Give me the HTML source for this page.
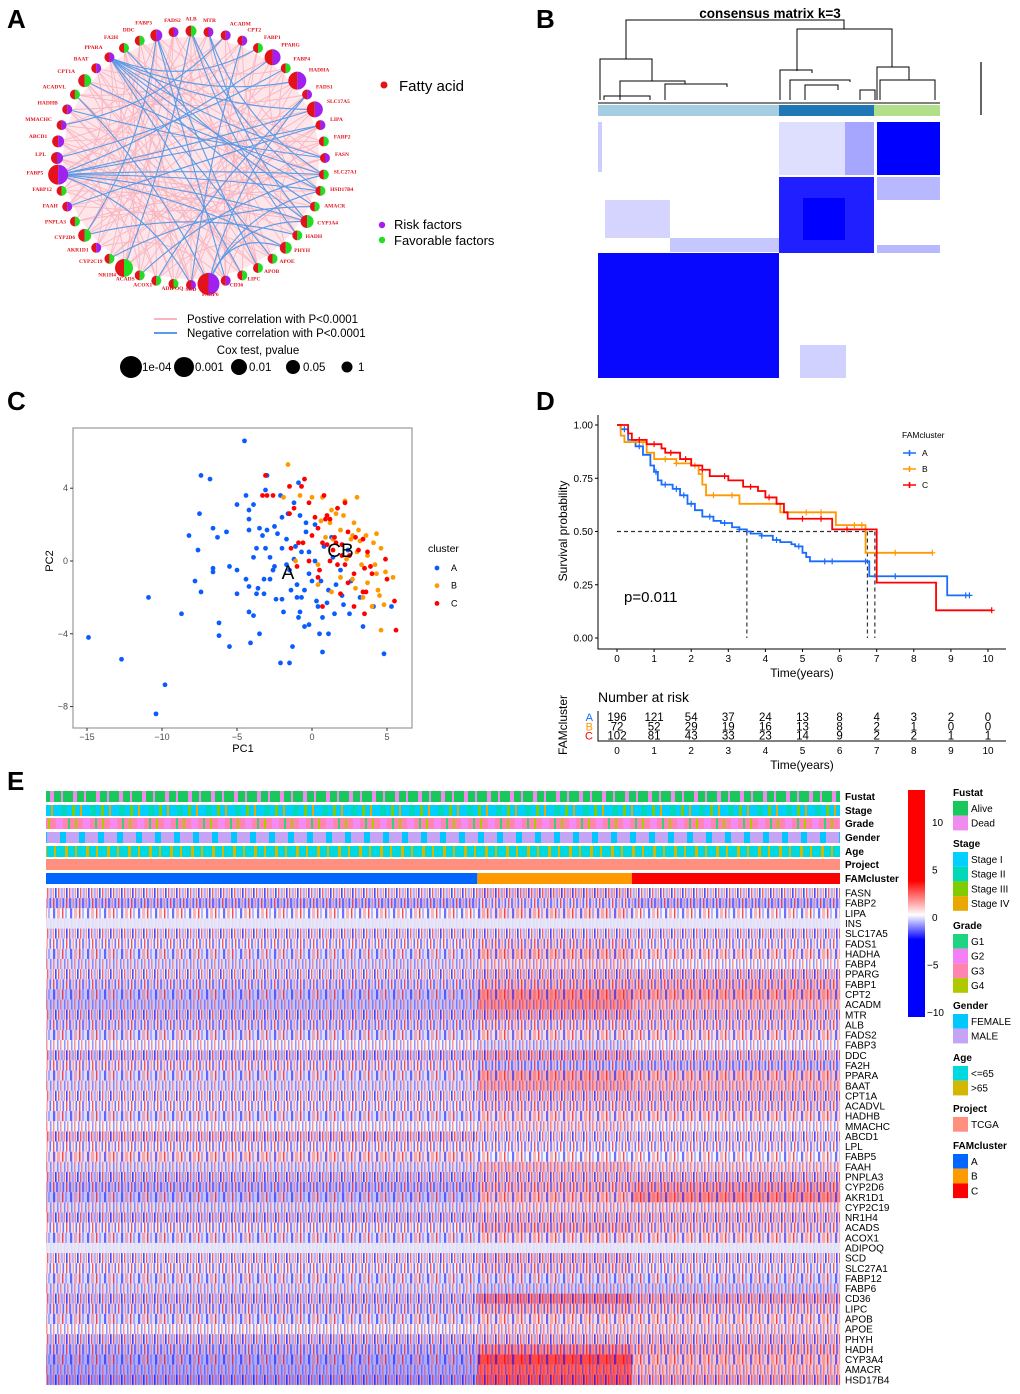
<!DOCTYPE html>
<html><head><meta charset="utf-8"><title>Fatty acid metabolism clusters</title>
<style>
html,body{margin:0;padding:0;background:#fff;}
svg{display:block;font-family:"Liberation Sans",Arial,sans-serif;}
</style></head>
<body>
<svg id="fig" width="1020" height="1394" viewBox="0 0 1020 1394" xmlns="http://www.w3.org/2000/svg">
<defs>
<pattern id="hm0" width="11" height="10" patternUnits="userSpaceOnUse">
<rect x="0" y="0" width="1.6" height="10" fill="#0000ff" opacity="0.7"/><rect x="3" y="0" width="1.4" height="10" fill="#ff0000" opacity="0.6"/><rect x="5.5" y="0" width="2.4" height="10" fill="#3333ff" opacity="0.35"/><rect x="8.6" y="0" width="1.4" height="10" fill="#ff2222" opacity="0.45"/></pattern>
<pattern id="hm1" width="13" height="10" patternUnits="userSpaceOnUse">
<rect x="1" y="0" width="1.4" height="10" fill="#ff0000" opacity="0.65"/><rect x="4" y="0" width="2.2" height="10" fill="#0000ff" opacity="0.45"/><rect x="7.5" y="0" width="1.6" height="10" fill="#ff3333" opacity="0.4"/><rect x="10.5" y="0" width="1.6" height="10" fill="#2222ff" opacity="0.6"/></pattern>
<pattern id="hm2" width="17" height="10" patternUnits="userSpaceOnUse">
<rect x="2" y="0" width="2.2" height="10" fill="#0000ff" opacity="0.55"/><rect x="6" y="0" width="3" height="10" fill="#ff4444" opacity="0.35"/><rect x="11" y="0" width="1.4" height="10" fill="#ff0000" opacity="0.7"/><rect x="14" y="0" width="2" height="10" fill="#4444ff" opacity="0.35"/></pattern>
<pattern id="hm3" width="7" height="10" patternUnits="userSpaceOnUse">
<rect x="1" y="0" width="1.5" height="10" fill="#2222ff" opacity="0.45"/><rect x="4" y="0" width="1.5" height="10" fill="#ff2222" opacity="0.45"/></pattern>
<pattern id="pFust" width="23" height="12" patternUnits="userSpaceOnUse"><rect x="4" width="4" height="12" fill="#f08cf0"/><rect x="15" width="2" height="12" fill="#f08cf0"/></pattern>
<pattern id="pStage" width="29" height="12" patternUnits="userSpaceOnUse"><rect x="3" width="6" height="12" fill="#00d8b8"/><rect x="14" width="3" height="12" fill="#7fcc00"/><rect x="22" width="2" height="12" fill="#e8a800"/></pattern>
<pattern id="pGrade" width="27" height="12" patternUnits="userSpaceOnUse"><rect x="2" width="7" height="12" fill="#f58af5"/><rect x="14" width="2" height="12" fill="#33d17a"/><rect x="21" width="2" height="12" fill="#b0c800"/></pattern>
<pattern id="pGender" width="19" height="12" patternUnits="userSpaceOnUse"><rect x="3" width="6" height="12" fill="#00c8ff"/></pattern>
<pattern id="pAge" width="21" height="12" patternUnits="userSpaceOnUse"><rect x="2" width="3" height="12" fill="#d4b800"/><rect x="12" width="2" height="12" fill="#d4b800"/></pattern>
<linearGradient id="cbar" x1="0" y1="0" x2="0" y2="1">
<stop offset="0" stop-color="#ff0000"/><stop offset="0.4" stop-color="#ff0000"/><stop offset="0.55" stop-color="#ffffff"/><stop offset="0.66" stop-color="#0000ff"/><stop offset="1" stop-color="#0000ff"/></linearGradient>
</defs>

<text x="7" y="28" font-size="26" font-weight="bold">A</text>
<text x="536" y="28" font-size="26" font-weight="bold">B</text>
<text x="7" y="410" font-size="26" font-weight="bold">C</text>
<text x="536" y="410" font-size="26" font-weight="bold">D</text>
<text x="7" y="790" font-size="26" font-weight="bold">E</text>

<g id="pa"></g>
<g id="pb"></g>
<g id="pc"></g>
<g id="pd"></g>
<g id="pe"></g>
</svg>
<script>
// ===== DATA =====
const netGenes = ["ALB","MTR","ACADM","CPT2","FABP1","PPARG","FABP4","HADHA","FADS1","SLC17A5","LIPA","FABP2","FASN","SLC27A1","HSD17B4","AMACR","CYP3A4","HADH","PHYH","APOE","APOB","LIPC","CD36","FABP6","SCD","ADIPOQ","ACOX1","ACADS","NR1H4","CYP2C19","AKR1D1","CYP2D6","PNPLA3","FAAH","FABP12","FABP5","LPL","ABCD1","MMACHC","HADHB","ACADVL","CPT1A","BAAT","PPARA","FA2H","DDC","FABP3","FADS2"];
const netRisk = [0,1,1,1,0,1,0,1,1,1,1,0,1,0,0,0,0,0,0,0,0,0,1,1,1,0,0,0,0,0,1,0,0,1,0,1,1,1,1,1,0,0,1,1,0,0,1,1];
const netSize = [5.5,5,5,5,5,8,5,9,5,8,5,5,5,5,5,5,6.5,5,6,5,5,5,5,11,5,5,5,5,9,5,5,6.5,5,5,5,10,6,6,5,5,5,6.5,5,5,5,5,6,5];
const bluePairs = "43-4 43-7 43-9 43-14 43-16 43-19 43-12 43-21 0-14 0-17 0-28 46-20 46-22 46-31 35-13 35-14 35-9 35-16 35-5 35-18 35-24 35-10 23-14 23-16 23-18 23-8 23-40 1-16 1-13 41-13 29-15 31-17 10-33 6-36 2-38 27-13 24-3 44-15 26-8 39-12";
const pinkPairs = "0-24 0-35 1-30 2-36 3-33 4-40 5-39 6-31 7-34 8-29 9-37 10-26 11-38 12-28 13-42 14-41 15-44 16-45 17-46 18-47 19-44 20-43 21-42 22-41 23-40 24-39 25-38 26-37 27-36 28-35 29-47 30-46 31-45 32-44 33-43 34-42 2-20 3-22 5-25 7-27 9-29 11-31 13-33 15-35 17-37 19-39 21-41 23-43 25-45 27-47 1-19 4-22 6-24 8-26 10-28 12-30 14-32 16-34 18-36 20-38 22-40 24-42 26-44 28-46 0-20 3-17 5-15 7-21 9-23 11-25 13-27 15-29 17-31 19-33 21-35 23-37 25-39 27-41 29-43 31-47 33-45 35-1 37-3 39-5 41-7 43-9 45-11 47-13 2-12 6-14 10-18 14-22 18-26 22-30 26-34 30-38 34-42 38-46 42-2 46-6 8-40 12-44 16-0 20-4 24-8 28-12 32-16 36-20 40-24 44-28";

const pcaA = [[-4.5,6.6],[-7.4,4.7],[-6.8,4.5],[-3.1,3.9],[-3.0,4.7],[-4.4,3.6],[-2.1,3.6],[-5.0,3.1],[-4.2,2.8],[-3.9,3.1],[-7.5,2.6],[-4.2,2.3],[-6.6,1.8],[-5.7,1.6],[-8.2,1.4],[-6.3,1.3],[-4.2,1.7],[-3.5,1.8],[-3.0,1.7],[-2.5,1.9],[-2.0,2.4],[-1.7,1.2],[-7.6,0.6],[-3.7,0.7],[-3.1,0.7],[-2.0,0.7],[-3.9,0.2],[-2.8,0.2],[-6.6,-0.4],[-6.6,-0.6],[-5.5,-0.3],[-5.0,-0.5],[-2.5,-0.3],[-1.5,-0.5],[-4.4,-1.0],[-3.2,-1.0],[-2.8,-1.0],[-7.8,-1.1],[-7.4,-1.7],[-10.9,-2.0],[-5.0,-1.8],[-4.2,-1.4],[-3.6,-1.5],[-3.7,-1.8],[-3.2,-1.8],[-2.4,-2.1],[-2.0,-2.1],[-1.0,-2.0],[-8.7,-2.9],[-6.2,-3.4],[-4.2,-2.8],[-3.9,-3.0],[-1.9,-2.8],[-0.8,-2.8],[-6.2,-4.1],[-3.5,-4.0],[-14.9,-4.2],[-5.5,-4.7],[-4.1,-4.5],[-1.3,-4.7],[-12.7,-5.4],[-2.1,-5.6],[-1.5,-5.6],[-9.8,-6.8],[-10.4,-8.4],[-0.9,-3.1],[-0.5,-3.6],[-0.2,-3.5],[0.5,-4.0],[1.1,-4.0],[0.7,-5.0],[0.7,-3.1],[1.5,-2.9],[2.5,-2.9],[3.4,-3.6],[4.8,-5.1],[5.3,-2.5],[4.1,-2.5],[3.2,-2.0],[2.1,-2.4],[1.0,-2.3],[0.3,-2.2],[-0.5,-1.6],[-0.2,-0.7],[0.2,0.0],[0.8,0.8],[1.3,1.3],[0.2,2.0],[-0.4,2.1],[-0.8,2.5],[-1.2,3.2],[-0.9,4.3],[-1.6,2.6],[-2.3,1.5],[-1.1,0.8],[-0.7,0.5],[-0.4,1.6],[0.6,-1.1],[1.6,-1.3],[2.6,-1.1],[1.9,-0.5],[-1.7,-0.2],[-1.2,0.1],[-0.2,0.5],[1.4,0.2],[2.4,0.6],[2.0,-1.9],[0.4,-2.5],[-0.7,-2.0],[-1.4,-1.6],[-2.6,-0.5],[-3.3,1.4],[-1.0,-1.3],[0.0,-1.1],[1.1,-1.6]];
const pcaB = [[-1.6,5.3],[-1.9,3.5],[-0.8,3.6],[0.0,3.5],[0.7,3.5],[3.0,3.5],[1.3,2.8],[2.2,3.3],[1.6,2.6],[2.1,2.5],[0.6,2.2],[1.2,2.1],[2.8,2.1],[3.1,1.7],[1.9,1.7],[2.7,1.4],[3.6,1.4],[4.3,1.5],[4.1,1.0],[3.2,1.1],[2.6,1.2],[1.4,1.2],[4.6,0.7],[3.7,0.3],[4.2,-0.2],[3.5,-0.4],[4.3,-0.7],[4.9,-0.6],[5.4,-0.9],[3.7,-1.2],[2.7,-1.0],[1.9,-0.9],[0.4,-0.2],[0.4,-1.3],[1.3,-1.7],[4.4,-1.6],[4.5,-1.9],[3.4,-2.0],[4.0,-2.5],[4.8,-2.4],[4.6,-3.8],[-1.1,0.0],[0.9,1.3],[2.3,0.1],[3.0,0.5],[3.3,-0.2],[2.9,-1.5]];
const pcaC = [[-3.1,4.7],[-1.5,4.1],[-0.7,4.1],[-0.5,4.5],[-3.3,3.6],[-3.0,3.6],[-2.6,3.6],[0.8,3.6],[-0.2,3.2],[2.2,3.2],[-1.2,2.9],[-1.5,2.6],[1.7,2.9],[0.2,2.4],[0.9,2.3],[1.2,2.3],[1.0,2.5],[0.4,1.8],[1.5,1.3],[2.4,1.6],[2.9,1.3],[3.4,1.2],[-0.9,1.0],[-0.6,1.0],[-1.4,0.7],[0.7,1.0],[1.0,0.9],[1.6,1.0],[2.0,0.3],[2.5,0.3],[3.1,0.6],[3.7,0.5],[3.9,-0.3],[4.9,0.1],[4.0,-0.7],[3.5,-0.4],[2.2,-0.2],[1.7,-0.2],[1.2,0.0],[0.5,-0.5],[0.4,-0.9],[-1.0,-0.3],[2.4,-1.2],[2.8,-0.7],[3.4,-1.7],[3.6,-1.7],[5.0,-1.0],[5.5,-2.2],[5.6,-3.8],[3.5,-2.9],[2.8,-2.5],[0.7,-2.5],[1.9,-1.8],[-0.2,0.0],[0.0,1.4],[1.4,0.6],[2.0,0.9]];
const pcaXTicks = [-15,-10,-5,0,5];
const pcaYTicks = [4,0,-4,-8];

const kmA = [[0,1],[0.1,0.98],[0.3,0.93],[0.5,0.9],[0.7,0.86],[0.9,0.81],[1.0,0.78],[1.1,0.74],[1.2,0.72],[1.5,0.7],[1.7,0.67],[1.9,0.63],[2.1,0.6],[2.3,0.57],[2.6,0.55],[2.8,0.54],[3.1,0.52],[3.3,0.51],[3.5,0.5],[3.6,0.49],[3.9,0.48],[4.2,0.46],[4.4,0.45],[4.7,0.44],[4.8,0.43],[5.0,0.4],[5.1,0.38],[5.2,0.36],[6.8,0.29],[8.9,0.2],[9.5,0.2]];
const kmB = [[0,1],[0.1,0.95],[0.2,0.92],[0.8,0.87],[1.0,0.84],[1.6,0.82],[2.0,0.81],[2.2,0.77],[2.3,0.72],[2.4,0.67],[3.3,0.63],[4.4,0.59],[5.9,0.53],[6.7,0.40],[8.5,0.40]];
const kmC = [[0,1],[0.3,0.96],[0.4,0.93],[0.8,0.91],[1.2,0.89],[1.3,0.87],[1.7,0.84],[2.0,0.81],[2.3,0.79],[2.5,0.76],[3.0,0.74],[3.4,0.71],[3.8,0.69],[4.0,0.66],[4.3,0.63],[4.5,0.59],[4.6,0.56],[5.8,0.51],[7.0,0.26],[8.6,0.13],[10.1,0.13]];
const censA = [0.2,0.6,1.05,1.3,1.6,1.8,2.0,2.5,2.9,3.3,3.9,4.3,4.9,5.6,5.8,6.7,7.5,9.4,9.5];
const censB = [0.7,1.3,1.6,2.1,2.6,3.1,5.1,5.5,6.4,6.6,7.5,8.5];
const censC = [0.6,1.0,1.45,1.85,2.3,2.9,3.6,4.1,5.0,5.5,6.2,10.1];
const medians = [3.5,6.75,6.95];
const kmXTicks = [0,1,2,3,4,5,6,7,8,9,10];
const kmYTicks = [0,0.25,0.5,0.75,1.0];
const riskA = [196,121,54,37,24,13,8,4,3,2,0];
const riskB = [72,52,29,19,16,13,8,2,1,0,0];
const riskC = [102,81,43,33,23,14,9,2,2,1,1];

const hmGenes = ["FASN","FABP2","LIPA","INS","SLC17A5","FADS1","HADHA","FABP4","PPARG","FABP1","CPT2","ACADM","MTR","ALB","FADS2","FABP3","DDC","FA2H","PPARA","BAAT","CPT1A","ACADVL","HADHB","MMACHC","ABCD1","LPL","FABP5","FAAH","PNPLA3","CYP2D6","AKR1D1","CYP2C19","NR1H4","ACADS","ACOX1","ADIPOQ","SCD","SLC27A1","FABP12","FABP6","CD36","LIPC","APOB","APOE","PHYH","HADH","CYP3A4","AMACR","HSD17B4"];
const hmA = [0,-0.2,0,-0.05,0,0,-0.1,-0.1,0,-0.1,-0.2,-0.2,-0.1,-0.1,-0.1,0,-0.1,0.05,-0.1,-0.1,0,0,-0.1,0,0.1,0,0.1,-0.1,-0.1,-0.2,-0.2,-0.1,-0.1,0,-0.1,-0.05,0,0,-0.1,-0.1,-0.1,-0.1,-0.1,0,-0.1,-0.2,-0.3,-0.3,-0.3];
const hmB = [0.1,-0.1,0.1,-0.05,0,0.1,0.2,0.1,0.1,0.2,0.4,0.4,0.2,0.1,0.1,-0.1,0.2,-0.15,0.3,0.3,0.1,0.1,0.1,0.1,0,0,0,0.2,0.1,0.2,0.2,0.1,0.1,0.2,0.1,-0.05,0.1,0.1,-0.1,-0.15,0.4,0.2,0.1,0.1,0.1,0.4,0.7,0.6,0.6];
const hmC = [0,-0.2,0,-0.05,0,0,0.1,0,0.1,0.2,0.3,0.2,0.1,0.1,0.1,0,0.1,-0.15,0.2,0.2,0.1,0.1,0.1,0,0,0,0,0.1,0.1,0.3,0.4,0.1,0.1,0.1,0.1,-0.05,0,0,-0.1,-0.15,0.2,0.1,0.1,0.1,0.1,0.2,0.2,0.2,0.2];
const clusterCounts = [201,72,97];
const cbarTicks = [10,5,0,-5,-10];

const NS = "http://www.w3.org/2000/svg";
function mk(tag, parent){ const e = document.createElementNS(NS, tag); parent.appendChild(e); return e; }
function at(e, o){ for (const k in o) e.setAttribute(k, o[k]); return e; }

// ===== PANEL A =====
(function(){
  const g = document.getElementById('pa');
  const cx = 191, cy = 158, rx = 134, ry = 127, n = netGenes.length;
  const pos = netGenes.map((_, i) => { const a = -Math.PI/2 + i*2*Math.PI/n; return [cx + rx*Math.cos(a), cy + ry*Math.sin(a), a]; });
  const bg = mk('ellipse', g);
  at(bg, {cx:cx, cy:cy, rx:rx-6, ry:ry-6, fill:'#fbd3da', opacity:0.6});
  
  
  function edge(pair, color, w, name){
    const [i, j] = pair.split('-').map(Number);
    const [x1, y1] = pos[i], [x2, y2] = pos[j];
    const mx = (x1+x2)/2, my = (y1+y2)/2;
    const qx = mx + (cx-mx)*0.35, qy = my + (cy-my)*0.35;
    const p = mk('path', g);
    at(p, {d:`M${x1},${y1} Q${qx},${qy} ${x2},${y2}`, fill:'none', stroke:color, 'stroke-width':w});
    
    
  }
  pinkPairs.split(' ').forEach(pr => edge(pr, '#f7b6c2', 0.9, 'positive-correlation-edge'));
  bluePairs.split(' ').forEach(pr => edge(pr, '#5b9be8', 1.1, 'negative-correlation-edge'));
  netGenes.forEach((gname, i) => {
    const [x, y, a] = pos[i]; const r = netSize[i];
    const left = mk('path', g);
    at(left, {d:`M${x},${y-r} A${r},${r} 0 0 0 ${x},${y+r} Z`, fill:'#e3121b'});
    
    
    const right = mk('path', g);
    at(right, {d:`M${x},${y-r} A${r},${r} 0 0 1 ${x},${y+r} Z`, fill: netRisk[i] ? '#a020f0' : '#22dd22'});
    
    
    const t = mk('text', g);
    const lx = x + Math.cos(a)*(r+3) + (Math.cos(a) > 0.2 ? 2 : (Math.cos(a) < -0.2 ? -2 : 0));
    const ly = y + Math.sin(a)*(r+3) - 2;
    at(t, {x:lx, y:ly, 'font-size':5.5, 'font-weight':'bold', fill:'#e3121b', 'font-family':'Liberation Serif, serif', 'text-anchor': Math.cos(a) > 0.2 ? 'start' : (Math.cos(a) < -0.2 ? 'end' : 'middle')});
    t.textContent = gname;
    
    
  });
  const L = [
    ['circle',{cx:384,cy:85,r:3.5,fill:'#e3121b'},'legend-fatty-acid-dot'],
    ['circle',{cx:382,cy:225,r:3.2,fill:'#a020f0'},'legend-risk-dot'],
    ['circle',{cx:382,cy:240,r:3.2,fill:'#22dd22'},'legend-favorable-dot'],
    ['line',{x1:154,y1:319,x2:177,y2:319,stroke:'#f7b6c2','stroke-width':2},'legend-positive-line'],
    ['line',{x1:154,y1:333,x2:177,y2:333,stroke:'#5b9be8','stroke-width':2},'legend-negative-line']];
  L.forEach(([tag, o, nm]) => { const e = mk(tag, g); at(e, o);   });
  const T = [[399,91,15,'Fatty acid','start'],[394,229,13,'Risk factors','start'],[394,245,13,'Favorable factors','start'],
    [187,323,11.5,'Postive correlation with P<0.0001','start'],[187,337,11.5,'Negative correlation with P<0.0001','start'],[258,354,11.5,'Cox test, pvalue','middle']];
  T.forEach(([x, y, fs, s, an]) => { const e = mk('text', g); at(e, {x:x, y:y, 'font-size':fs, 'text-anchor':an}); e.textContent = s;   });
  const cox = [[131,11,'1e-04',142],[184,10,'0.001',195],[239,8,'0.01',249],[293,7,'0.05',303],[347,5.5,'1',358]];
  cox.forEach(([x, r, s, tx]) => {
    const c = mk('circle', g); at(c, {cx:x, cy:367, r:r, fill:'#000'});
    
    
    const t = mk('text', g); at(t, {x:tx, y:371, 'font-size':11.5}); t.textContent = s;
    
    
  });
})();

// ===== PANEL B =====
(function(){
  const g = document.getElementById('pb');
  const t = mk('text', g); at(t, {x:770, y:18, 'font-size':13.5, 'font-weight':'bold', 'text-anchor':'middle'}); t.textContent = 'consensus matrix k=3';
  
  
  const dendro = "M626,59 V20 H844 V29 M797,71 V29 H892 V67 M600,100 V59 H652 V81 M620,100 V81 H685 V84 M665,100 V84 H727 V87 M604,100 V96 H650 V100 M780,100 V70 H812 V73 M790,100 V80 H850 V82 M805,100 V85 H838 V90 M877,100 V67 H909 V80 M880,100 V80 H935 V100 M860,100 V90 H875 V100 M598,103 H940";
  const d = mk('path', g); at(d, {d:dendro, fill:'none', stroke:'#000', 'stroke-width':1});
  
  
  const R = [
    [598,105,181,11,'#a6cee3',1,'cluster-bar-1'],[779,105,95,11,'#1f78b4',1,'cluster-bar-2'],[874,105,66,11,'#b2df8a',1,'cluster-bar-3'],
    [779,122,95,53,'#0000ff',0.13,'matrix-light'],[845,122,29,53,'#0000ff',0.25,'matrix-light'],
    [877,177,63,23,'#0000ff',0.28,'matrix-light'],[605,200,65,38,'#0000ff',0.17,'matrix-light'],[670,238,109,14,'#0000ff',0.22,'matrix-light'],
    [800,345,46,33,'#0000ff',0.18,'matrix-light'],[877,245,63,8,'#0000ff',0.28,'matrix-light'],[598,122,4,50,'#0000ff',0.2,'matrix-light'],
    [877,122,63,53,'#0000ff',1,'matrix-block-c'],[779,177,95,76,'#0000ff',0.88,'matrix-block-b'],[803,198,42,42,'#0000ff',1,'matrix-block-b-core'],
    [598,253,181,125,'#0000ff',0.97,'matrix-block-a']];
  R.forEach(([x, y, w, h, f, op, nm]) => { const e = mk('rect', g); at(e, {x:x, y:y, width:w, height:h, fill:f, opacity:op});   });
  const sl = mk('line', g); at(sl, {x1:981, y1:62, x2:981, y2:115, stroke:'#000', 'stroke-width':1.2});
  
  
})();

// ===== PANEL C =====
(function(){
  const g = document.getElementById('pc');
  const X = v => 87 + (v + 15) * 15, Y = v => 561 - v * 18.2;
  const box = mk('rect', g); at(box, {x:73, y:428, width:339, height:300, fill:'none', stroke:'#999', 'stroke-width':1.2});
  
  
  pcaXTicks.forEach(v => {
    const tk = mk('line', g); at(tk, {x1:X(v), y1:728, x2:X(v), y2:731, stroke:'#333'});
    
    
    const t = mk('text', g); at(t, {x:X(v), y:740, 'font-size':9, fill:'#4d4d4d', 'text-anchor':'middle'}); t.textContent = v < 0 ? '\u2212' + (-v) : v;
    
    
  });
  pcaYTicks.forEach(v => {
    const tk = mk('line', g); at(tk, {x1:70, y1:Y(v), x2:73, y2:Y(v), stroke:'#333'});
    
    
    const t = mk('text', g); at(t, {x:68, y:Y(v)+3, 'font-size':9, fill:'#4d4d4d', 'text-anchor':'end'}); t.textContent = v < 0 ? '\u2212' + (-v) : v;
    
    
  });
  [[pcaA,'#0a5cff','point-cluster-a'],[pcaB,'#ff9900','point-cluster-b'],[pcaC,'#ff0000','point-cluster-c']].forEach(([arr, col, nm]) => {
    arr.forEach(([a, b]) => { const c = mk('circle', g); at(c, {cx:X(a), cy:Y(b), r:2.4, fill:col});   });
  });
  const labs = [[-1.6,-0.6,'A'],[1.9,0.6,'CB']];
  labs.forEach(([a, b, s]) => { const t = mk('text', g); at(t, {x:X(a), y:Y(b)+7, 'font-size':19, 'text-anchor':'middle'}); t.textContent = s;   });
  const tx = [[243,752,11,'PC1'],[428,552,10.5,'cluster']];
  tx.forEach(([x, y, fs, s]) => { const t = mk('text', g); at(t, {x:x, y:y, 'font-size':fs, 'text-anchor': s === 'PC1' ? 'middle' : 'start'}); t.textContent = s;   });
  const yt = mk('text', g); at(yt, {x:0, y:0, 'font-size':11, 'text-anchor':'middle', transform:'translate(53,561) rotate(-90)'}); yt.textContent = 'PC2';
  
  
  [['A','#0a5cff'],['B','#ff9900'],['C','#ff0000']].forEach(([s, col], i) => {
    const c = mk('circle', g); at(c, {cx:437, cy:568+i*17.7, r:2.4, fill:col});
    
    
    const t = mk('text', g); at(t, {x:451, y:571+i*17.7, 'font-size':9}); t.textContent = s;
    
    
  });
})();

// ===== PANEL D =====
(function(){
  const g = document.getElementById('pd');
  const X = t => 617 + t * 37.1, Y = s => 638 - s * 213;
  const ax = mk('path', g); at(ax, {d:'M598,415 V649 H1006', fill:'none', stroke:'#000', 'stroke-width':1});
  
  
  kmYTicks.forEach(v => {
    const tk = mk('line', g); at(tk, {x1:595, y1:Y(v), x2:598, y2:Y(v), stroke:'#000'});
    
    
    const t = mk('text', g); at(t, {x:593, y:Y(v)+3.5, 'font-size':10, 'text-anchor':'end'}); t.textContent = v.toFixed(2);
    
    
  });
  kmXTicks.forEach(v => {
    const tk = mk('line', g); at(tk, {x1:X(v), y1:649, x2:X(v), y2:652, stroke:'#000'});
    
    
    const t = mk('text', g); at(t, {x:X(v), y:662, 'font-size':10, 'text-anchor':'middle'}); t.textContent = v;
    
    
  });
  const mh = mk('line', g); at(mh, {x1:X(0), y1:Y(0.5), x2:X(Math.max(...medians)), y2:Y(0.5), stroke:'#333', 'stroke-dasharray':'4,3', 'stroke-width':1.2});
  
  
  medians.forEach(m => { const l = mk('line', g); at(l, {x1:X(m), y1:Y(0.5), x2:X(m), y2:Y(0), stroke:'#333', 'stroke-dasharray':'4,3', 'stroke-width':1.2});   });
  function survAt(km, t){ let s = 1; for (const [tt, ss] of km) { if (tt <= t) s = ss; } return s; }
  [[kmA,censA,'#1a6cff','km-curve-a'],[kmB,censB,'#ff9900','km-curve-b'],[kmC,censC,'#ff0000','km-curve-c']].forEach(([km, cens, col, nm]) => {
    let d = `M${X(km[0][0])},${Y(km[0][1])}`;
    for (let i = 1; i < km.length; i++) d += ` H${X(km[i][0])} V${Y(km[i][1])}`;
    const p = mk('path', g); at(p, {d:d, fill:'none', stroke:col, 'stroke-width':1.8});
    
    
    cens.forEach(t => {
      const y = Y(survAt(km, t)), x = X(t);
      const c = mk('path', g); at(c, {d:`M${x-3},${y} H${x+3} M${x},${y-3} V${y+3}`, stroke:col, 'stroke-width':1.2});
      
      
    });
  });
  const T = [[624,602,15,'p=0.011','start','p-value'],[802,677,12,'Time(years)','middle','x-axis-title'],[902,438,8.5,'FAMcluster','start','legend-title'],
    [598,702,14,'Number at risk','start','risk-table-title'],[802,769,12,'Time(years)','middle','risk-x-axis-title']];
  T.forEach(([x, y, fs, s, an, nm]) => { const t = mk('text', g); at(t, {x:x, y:y, 'font-size':fs, 'text-anchor':an}); t.textContent = s;   });
  const yt = mk('text', g); at(yt, {x:0, y:0, 'font-size':12, 'text-anchor':'middle', transform:'translate(567,531) rotate(-90)'}); yt.textContent = 'Survival probability';
  
  
  const yt2 = mk('text', g); at(yt2, {x:0, y:0, 'font-size':12, 'text-anchor':'middle', transform:'translate(567,725) rotate(-90)'}); yt2.textContent = 'FAMcluster';
  
  
  const cols = ['#1a6cff','#ff9900','#ff0000'];
  ['A','B','C'].forEach((s, i) => {
    const y = 453 + i*16;
    const l = mk('path', g); at(l, {d:`M903,${y} H916 M909.5,${y-3} V${y+3}`, stroke:cols[i], 'stroke-width':1.6});
    
    
    const t = mk('text', g); at(t, {x:922, y:y+3, 'font-size':8.5}); t.textContent = s;
    
    
  });
  const ax2 = mk('path', g); at(ax2, {d:'M598,711 V741 H1006', fill:'none', stroke:'#000', 'stroke-width':1});
  
  
  [riskA, riskB, riskC].forEach((row, i) => {
    const y = 721 + i*9.3;
    const lb = mk('text', g); at(lb, {x:593, y:y, 'font-size':11, fill:cols[i], 'text-anchor':'end'}); lb.textContent = ['A','B','C'][i];
    
    
    row.forEach((v, k) => { const t = mk('text', g); at(t, {x:X(kmXTicks[k]), y:y, 'font-size':11.5, 'text-anchor':'middle'}); t.textContent = v;   });
  });
  kmXTicks.forEach(v => { const t = mk('text', g); at(t, {x:X(v), y:754, 'font-size':10, 'text-anchor':'middle'}); t.textContent = v;   });
})();

// ===== PANEL E =====
(function(){
  const g = document.getElementById('pe');
  const x0 = 46, x1 = 840, W = x1 - x0;
  const tot = clusterCounts.reduce((a, b) => a + b, 0);
  const bnd = [x0]; let acc = 0; clusterCounts.forEach(c => { acc += c; bnd.push(x0 + W * acc / tot); });
  const anno = [['Fustat','#19c85a','url(#pFust)',791],['Stage','#00cfff','url(#pStage)',805],['Grade','#ff85b0','url(#pGrade)',818],['Gender','#c5a3f5','url(#pGender)',832],['Age','#00d8e0','url(#pAge)',846],['Project','#ff9080',null,859]];
  anno.forEach(([nm, base, pat, y]) => {
    const r = mk('rect', g); at(r, {x:x0, y:y, width:W, height:11, fill:base});
    
    
    if (pat) { const p = mk('rect', g); at(p, {x:x0, y:y, width:W, height:11, fill:pat});   }
    const t = mk('text', g); at(t, {x:845, y:y+9, 'font-size':10, 'font-weight':'bold'}); t.textContent = nm;
    
    
  });
  const ccol = ['#0066ff','#ff9900','#ff0000'];
  for (let k = 0; k < 3; k++) { const r = mk('rect', g); at(r, {x:bnd[k], y:873, width:bnd[k+1]-bnd[k], height:11, fill:ccol[k]});   }
  const ft = mk('text', g); at(ft, {x:845, y:882, 'font-size':10, 'font-weight':'bold'}); ft.textContent = 'FAMcluster';
  
  
  function col(v){
    const t = Math.min(1, Math.abs(v));
    const base = [244,244,251];
    const tgt = v >= 0 ? [255,0,0] : [0,0,255];
    const c = base.map((b, i) => Math.round(b + (tgt[i] - b) * t));
    return `rgb(${c[0]},${c[1]},${c[2]})`;
  }
  const top = 888, rh = 10.14;
  hmGenes.forEach((gn, i) => {
    const y = top + i*rh;
    [hmA[i], hmB[i], hmC[i]].forEach((v, k) => {
      const r = mk('rect', g); at(r, {x:bnd[k], y:y, width:bnd[k+1]-bnd[k]+0.3, height:rh+0.2, fill:col(v)});
      
      
    });
    const tx = mk('rect', g); at(tx, {x:x0, y:y, width:W, height:rh, fill:'url(#hm' + (i % 4) + ')', opacity: (gn === 'INS' || gn === 'ADIPOQ') ? 0.12 : 1});
    
    
    const t = mk('text', g); at(t, {x:845, y:y+8.6, 'font-size':10}); t.textContent = gn;
    
    
  });
  const cb = mk('rect', g); at(cb, {x:908, y:790, width:17, height:227, fill:'url(#cbar)'});
  
  
  const CY = v => 917 - v * 9.5;
  cbarTicks.forEach(v => { const t = mk('text', g); at(t, {x: v < 0 ? 927 : 932, y:CY(v)+4, 'font-size':10}); t.textContent = v < 0 ? '\u2212' + (-v) : v;   });
  const groups = [
    ['Fustat',793,[['Alive','#19c85a'],['Dead','#f08cf0']]],
    ['Stage',844,[['Stage I','#00cfff'],['Stage II','#00d8b8'],['Stage III','#7fcc00'],['Stage IV','#e8a800']]],
    ['Grade',926,[['G1','#1ed483'],['G2','#f580f5'],['G3','#ff85b0'],['G4','#b0c800']]],
    ['Gender',1006,[['FEMALE','#00c8ff'],['MALE','#c5a3f5']]],
    ['Age',1058,[['<=65','#00d8e0'],['>65','#d4b800']]],
    ['Project',1109,[['TCGA','#ff9080']]],
    ['FAMcluster',1146,[['A','#0066ff'],['B','#ff9900'],['C','#ff0000']]]];
  groups.forEach(([title, y, items]) => {
    const t = mk('text', g); at(t, {x:953, y:y+3, 'font-size':10, 'font-weight':'bold'}); t.textContent = title;
    
    
    items.forEach(([lab, c], k) => {
      const sy = y + 8 + k*14.7;
      const r = mk('rect', g); at(r, {x:953, y:sy, width:15, height:14.7, fill:c});
      
      
      const tl = mk('text', g); at(tl, {x:971, y:sy+11, 'font-size':10}); tl.textContent = lab;
      
      
    });
  });
})();
</script>
</body></html>
